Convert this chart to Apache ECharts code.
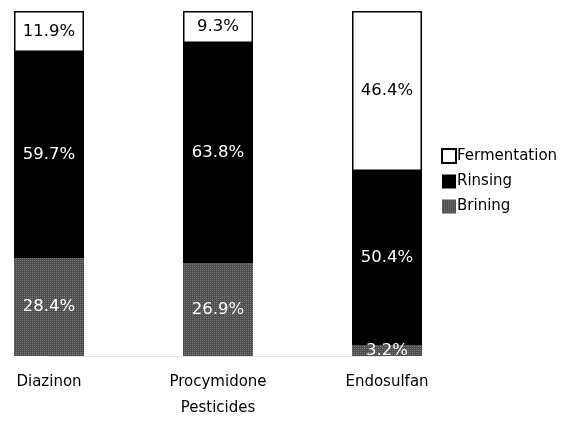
<!DOCTYPE html>
<html>
<head>
<meta charset="utf-8">
<script src="https://cdn.jsdelivr.net/npm/echarts@6/dist/echarts.min.js"></script>
<style>
  html, body { margin: 0; padding: 0; background: #fff; }
  #chart { width: 569px; height: 421px; }
</style>
</head>
<body>
<div id="chart"></div>
<script>
const pesticides = ["Diazinon", "Procymidone", "Endosulfan"];
const brining = [28.4, 26.9, 3.2];
const rinsing = [59.7, 63.8, 50.4];
const fermentation = [11.9, 9.3, 46.4];

const font = "DejaVu Sans";

const chart = echarts.init(document.getElementById("chart"));

const pctLabel = color => ({
  show: true,
  position: "inside",
  color: color,
  fontFamily: font,
  fontSize: 16.5,
  formatter: p => p.value.toFixed(1) + "%",
});

chart.setOption({
  animation: false,
  grid: { left: 49, right: 182, top: 11, bottom: 59 },
  legend: {
    orient: "vertical",
    left: 436,
    top: 143,
    itemWidth: 14,
    itemHeight: 14,
    itemGap: 10,
    icon: "rect",
    textStyle: { fontFamily: font, fontSize: 15, color: "#000", padding: [0, 0, 0, -4] },
    data: ["Fermentation", "Rinsing", "Brining"],
  },
  xAxis: {
    type: "category",
    data: pesticides,
    boundaryGap: false,
    name: "Pesticides",
    nameLocation: "middle",
    nameGap: 45,
    nameTextStyle: { fontFamily: font, fontSize: 15, color: "#000" },
    axisLine: { show: true, lineStyle: { color: "#ddd", type: "dotted" } },
    axisTick: { show: false },
    axisLabel: { fontFamily: font, fontSize: 15, color: "#000", margin: 19 },
  },
  yAxis: {
    type: "value",
    min: 0,
    max: 100,
    show: false,
  },
  series: [
    {
      name: "Brining",
      type: "bar",
      stack: "total",
      barWidth: 70,
      data: brining,
      itemStyle: {
        color: "#4e4e4e",
        decal: {
          symbol: "rect",
          symbolSize: 1,
          dashArrayX: [1, 1],
          dashArrayY: [1, 1],
          color: "rgba(150,150,150,0.6)",
        },
      },
      label: pctLabel("#fff"),
    },
    {
      name: "Rinsing",
      type: "bar",
      stack: "total",
      barWidth: 70,
      data: rinsing,
      itemStyle: { color: "#000" },
      label: pctLabel("#fff"),
    },
    {
      name: "Fermentation",
      type: "bar",
      stack: "total",
      barWidth: 70,
      data: fermentation,
      itemStyle: { color: "#fff", borderColor: "#000", borderWidth: 1.5 },
      label: pctLabel("#000"),
    },
  ],
});
</script>
</body>
</html>
